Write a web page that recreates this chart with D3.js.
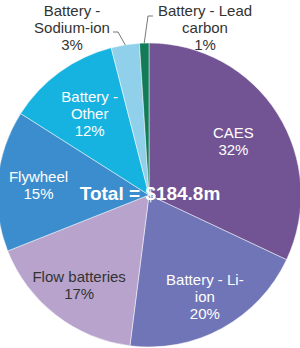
<!DOCTYPE html>
<html>
<head>
<meta charset="utf-8">
<script src="https://cdn.jsdelivr.net/npm/d3@7"></script>
<style>
  body { margin: 0; background: #fff; }
  svg text { font-family: "Liberation Sans", Arial, sans-serif; }
</style>
</head>
<body>
<div id="chart"></div>
<script>
// Storage funding by technology (share of total)
var categories = ["CAES", "Battery - Li-ion", "Flow batteries", "Flywheel",
  "Battery - Other", "Battery - Sodium-ion", "Battery - Lead carbon"];
var shares = [32, 20, 17, 15, 12, 3, 1];
var labelLines = [["CAES"], ["Battery - Li-", "ion"], ["Flow batteries"], ["Flywheel"],
  ["Battery -", "Other"], ["Battery -", "Sodium-ion"], ["Battery - Lead", "carbon"]];
var totalLabel = "Total = $184.8m";

var colors = ["#725393", "#6f75b7", "#b8a3cc", "#3b8dcd", "#17b3e0", "#91d0eb", "#127b57"];
var textColors = ["#fff", "#fff", "#333", "#fff", "#fff", "#333", "#333"];

var width = 300, height = 348;
var cx = 149, cy = 195, radius = 152;
var lineH = 17;

// label placement: inside labels by radius, outside ones by offset + leader elbow
var labelRadius = [100, 116, 114, 111, 101];
var outside = {
  5: {x: -77, y: -168, elbow: [-31, -163], end: [-36, -163]},
  6: {x: 56, y: -168, elbow: [-1, -179], end: [4, -179]}
};

var svg = d3.select("#chart").append("svg")
  .attr("width", width)
  .attr("height", height);

var g = svg.append("g")
  .attr("transform", "translate(" + cx + "," + cy + ")");

var data = categories.map(function(c, i) {
  return {name: c, value: shares[i], lines: labelLines[i], i: i};
});

var pie = d3.pie()
  .sort(null)
  .value(function(d) { return d.value; });

var arc = d3.arc()
  .innerRadius(0)
  .outerRadius(radius);

var color = d3.scaleOrdinal()
  .domain(categories)
  .range(colors);

var arcs = pie(data);

g.selectAll("path.slice")
  .data(arcs)
  .enter().append("path")
  .attr("class", "slice")
  .attr("d", arc)
  .attr("fill", function(d) { return color(d.data.name); })
  .attr("stroke", "#fff")
  .attr("stroke-opacity", 0.6)
  .attr("stroke-width", 0.8);

// leader lines for the small slices
var edgeArc = d3.arc().innerRadius(radius).outerRadius(radius);
g.selectAll("path.leader")
  .data(arcs.filter(function(d) { return outside[d.data.i]; }))
  .enter().append("path")
  .attr("class", "leader")
  .attr("fill", "none")
  .attr("stroke", "#555")
  .attr("stroke-width", 0.8)
  .attr("d", function(d) {
    var o = outside[d.data.i];
    var p = edgeArc.centroid(d);
    return "M" + p[0] + "," + p[1] + "L" + o.elbow[0] + "," + o.elbow[1] + "L" + o.end[0] + "," + o.end[1];
  });

var labels = g.selectAll("text.label")
  .data(arcs)
  .enter().append("text")
  .attr("class", "label")
  .attr("text-anchor", "middle")
  .attr("font-size", "15px")
  .attr("fill", function(d) { return textColors[d.data.i]; })
  .each(function(d) {
    var pos;
    var o = outside[d.data.i];
    if (o) {
      pos = [o.x, o.y];
    } else {
      var r = labelRadius[d.data.i];
      pos = d3.arc().innerRadius(r).outerRadius(r).centroid(d);
    }
    var lines = d.data.lines.concat([d.data.value + "%"]);
    var y0 = pos[1] - (lines.length - 1) * lineH / 2;
    var t = d3.select(this);
    lines.forEach(function(l, k) {
      t.append("tspan")
        .attr("x", pos[0])
        .attr("y", y0 + k * lineH)
        .attr("dominant-baseline", "central")
        .text(l);
    });
  });

g.append("text")
  .attr("text-anchor", "middle")
  .attr("dominant-baseline", "central")
  .attr("x", 1)
  .attr("y", -2)
  .attr("font-size", "19px")
  .attr("font-weight", "bold")
  .attr("fill", "#fff")
  .text(totalLabel);
</script>
</body>
</html>
